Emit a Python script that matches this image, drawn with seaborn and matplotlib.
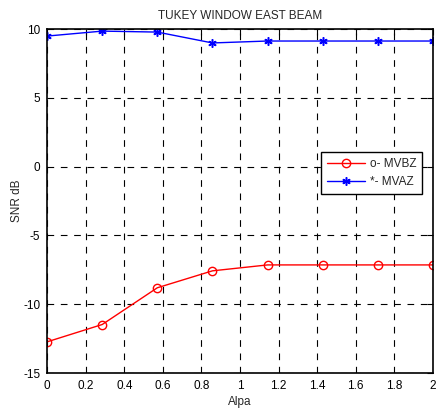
import numpy as np
import pandas as pd
import matplotlib
matplotlib.use("Agg")
import matplotlib.pyplot as plt
import seaborn as sns

alpha = [0, 0.2857, 0.5714, 0.8571, 1.1429, 1.4286, 1.7143, 2.0]
mvbz = [-12.73, -11.47, -8.8, -7.57, -7.14, -7.14, -7.14, -7.14]
mvaz = [9.49, 9.85, 9.78, 8.99, 9.13, 9.13, 9.13, 9.13]

sns.set_style("white")
plt.rcParams['font.family'] = ['Liberation Sans', 'DejaVu Sans']
plt.rcParams['axes.unicode_minus'] = False

fig = plt.figure(figsize=(4.36, 4.15), dpi=100)
ax = fig.add_axes([0.108, 0.101, 0.885, 0.829])

df = pd.DataFrame({"Alpa": alpha, "MVBZ": mvbz, "MVAZ": mvaz})
sns.lineplot(data=df, x="Alpa", y="MVBZ", ax=ax, color="red", marker="o",
             markersize=6, markerfacecolor="none", markeredgecolor="red",
             markeredgewidth=1.0, linewidth=1.0, label="o- MVBZ")
sns.lineplot(data=df, x="Alpa", y="MVAZ", ax=ax, color="blue", marker=(6, 2, 0),
             markersize=6, markerfacecolor="blue", markeredgecolor="blue",
             markeredgewidth=1.1, linewidth=1.0, label="*- MVAZ")

ax.set_xlim(0, 2)
ax.set_ylim(-15, 10)
ax.set_xticks(np.arange(0, 2.01, 0.2))
ax.set_xticklabels(["0", "0.2", "0.4", "0.6", "0.8", "1", "1.2", "1.4", "1.6", "1.8", "2"])
ax.set_yticks([-15, -10, -5, 0, 5, 10])
ax.grid(True, color="black", linestyle=(0, (6, 6)), linewidth=0.8)
ax.tick_params(direction="in", top=True, right=True, length=4, labelsize=8.5,
               colors="black", pad=5)
for s in ax.spines.values():
    s.set_color("black")
    s.set_linewidth(1.2)

ax.set_title("TUKEY WINDOW EAST BEAM", fontsize=8.5, pad=7)
ax.set_xlabel("Alpa", fontsize=8.5, labelpad=3)
ax.set_ylabel("SNR dB", fontsize=8.5, labelpad=0)

leg = ax.legend(loc="upper left", bbox_to_anchor=(0.695, 0.66), fontsize=8.5,
                frameon=True, fancybox=False, framealpha=1, edgecolor="black",
                handlelength=3.2, borderpad=0.5, labelspacing=0.5, handletextpad=0.4)
leg.get_frame().set_linewidth(1.0)

fig.savefig("out.png", dpi=100)
